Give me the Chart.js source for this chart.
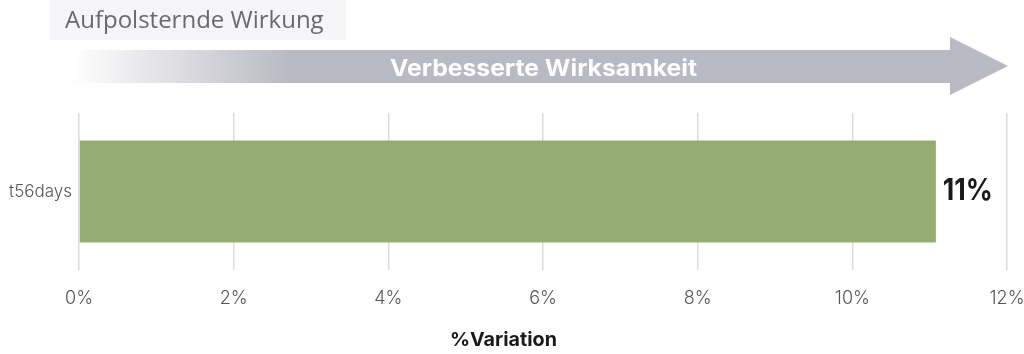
<!DOCTYPE html>
<html><head><meta charset="utf-8">
<script src="https://cdn.jsdelivr.net/npm/chart.js@4.4.1/dist/chart.umd.min.js"></script>
<style>html,body{margin:0;padding:0;background:#fff;}#wrap{position:relative;width:1024px;height:354px;}</style>
</head><body><div id="wrap"><canvas id="c" width="1024" height="354"></canvas></div>
<script>
const categories = ["t56days"];
const values = [11.08];
const valueLabels = ["11%"];
const tickLabels = ["0%","2%","4%","6%","8%","10%","12%"];
const headerText = "Aufpolsternde Wirkung";
const arrowText = "Verbesserte Wirksamkeit";
const axisTitle = "%Variation";

function fitText(ctx, text, x, y, w) {
  const m = ctx.measureText(text).width;
  ctx.save();
  ctx.translate(x, y);
  ctx.scale(w / m, 1);
  ctx.fillText(text, 0, 0);
  ctx.restore();
}

const decor = {
  id: 'decor',
  beforeDraw(chart) {
    const ctx = chart.ctx;
    ctx.save();
    ctx.fillStyle = '#f6f6f8';
    ctx.fillRect(50, 0, 296, 40);
    ctx.fillStyle = '#6a6a6e';
    ctx.font = '400 24px "Open Sans", sans-serif';
    ctx.textBaseline = 'alphabetic';
    ctx.textAlign = 'left';
    ctx.fillText(headerText, 65, 28);
    const g = ctx.createLinearGradient(72, 0, 290, 0);
    g.addColorStop(0, 'rgba(185,185,195,0)');
    g.addColorStop(1, '#b9b9c3');
    ctx.fillStyle = g;
    ctx.beginPath();
    ctx.moveTo(70, 50);
    ctx.lineTo(950, 50);
    ctx.lineTo(950, 37);
    ctx.lineTo(1008, 66);
    ctx.lineTo(950, 95);
    ctx.lineTo(950, 83);
    ctx.lineTo(70, 83);
    ctx.closePath();
    ctx.fill();
    ctx.fillStyle = '#ffffff';
    ctx.font = '700 23px "Inter", sans-serif';
    ctx.textAlign = 'left';
    ctx.textBaseline = 'middle';
    fitText(ctx, arrowText, 390, 69, 307);
    // axis title
    ctx.fillStyle = '#1a1a1a';
    ctx.font = '700 19px "Inter", sans-serif';
    fitText(ctx, axisTitle, 450, 340, 107);
    ctx.restore();
  },
  afterDatasetsDraw(chart) {
    const ctx = chart.ctx;
    const meta = chart.getDatasetMeta(0);
    ctx.save();
    ctx.fillStyle = '#1a1a1a';
    ctx.font = '700 30px "Inter", sans-serif';
    ctx.textAlign = 'left';
    ctx.textBaseline = 'middle';
    meta.data.forEach((el, i) => {
      fitText(ctx, valueLabels[i], el.x + 7, el.y - 1, 50);
    });
    ctx.restore();
  }
};

new Chart(document.getElementById('c'), {
  type: 'bar',
  data: {
    labels: categories,
    datasets: [{
      data: values,
      backgroundColor: '#94ad73',
      borderWidth: 0,
      categoryPercentage: 0.65,
      barPercentage: 1.0
    }]
  },
  options: {
    indexAxis: 'y',
    responsive: false,
    animation: false,
    devicePixelRatio: 1,
    layout: { padding: { top: 113, right: 17, left: 0, bottom: 0 } },
    plugins: { legend: { display: false }, tooltip: { enabled: false } },
    scales: {
      x: {
        min: 0, max: 12,
        ticks: {
          stepSize: 2,
          padding: 18,
          color: '#555',
          font: { family: '"Inter", sans-serif', size: 18, weight: '300' },
          callback: (v, i) => tickLabels[i]
        },
        grid: { color: '#dcdce0', lineWidth: 1.5, drawTicks: false },
        border: { display: false },
        title: { display: false },
        afterFit(s) { s.height = 84; s.paddingLeft = 0; s.paddingRight = 0; }
      },
      y: {
        ticks: {
          color: '#555', padding: 7,
          font: { family: '"Inter", sans-serif', size: 17, weight: '300' }
        },
        grid: { display: false, drawTicks: false },
        border: { display: false },
        afterFit(s) { s.width = 79; }
      }
    }
  },
  plugins: [decor]
});
</script></body></html>
